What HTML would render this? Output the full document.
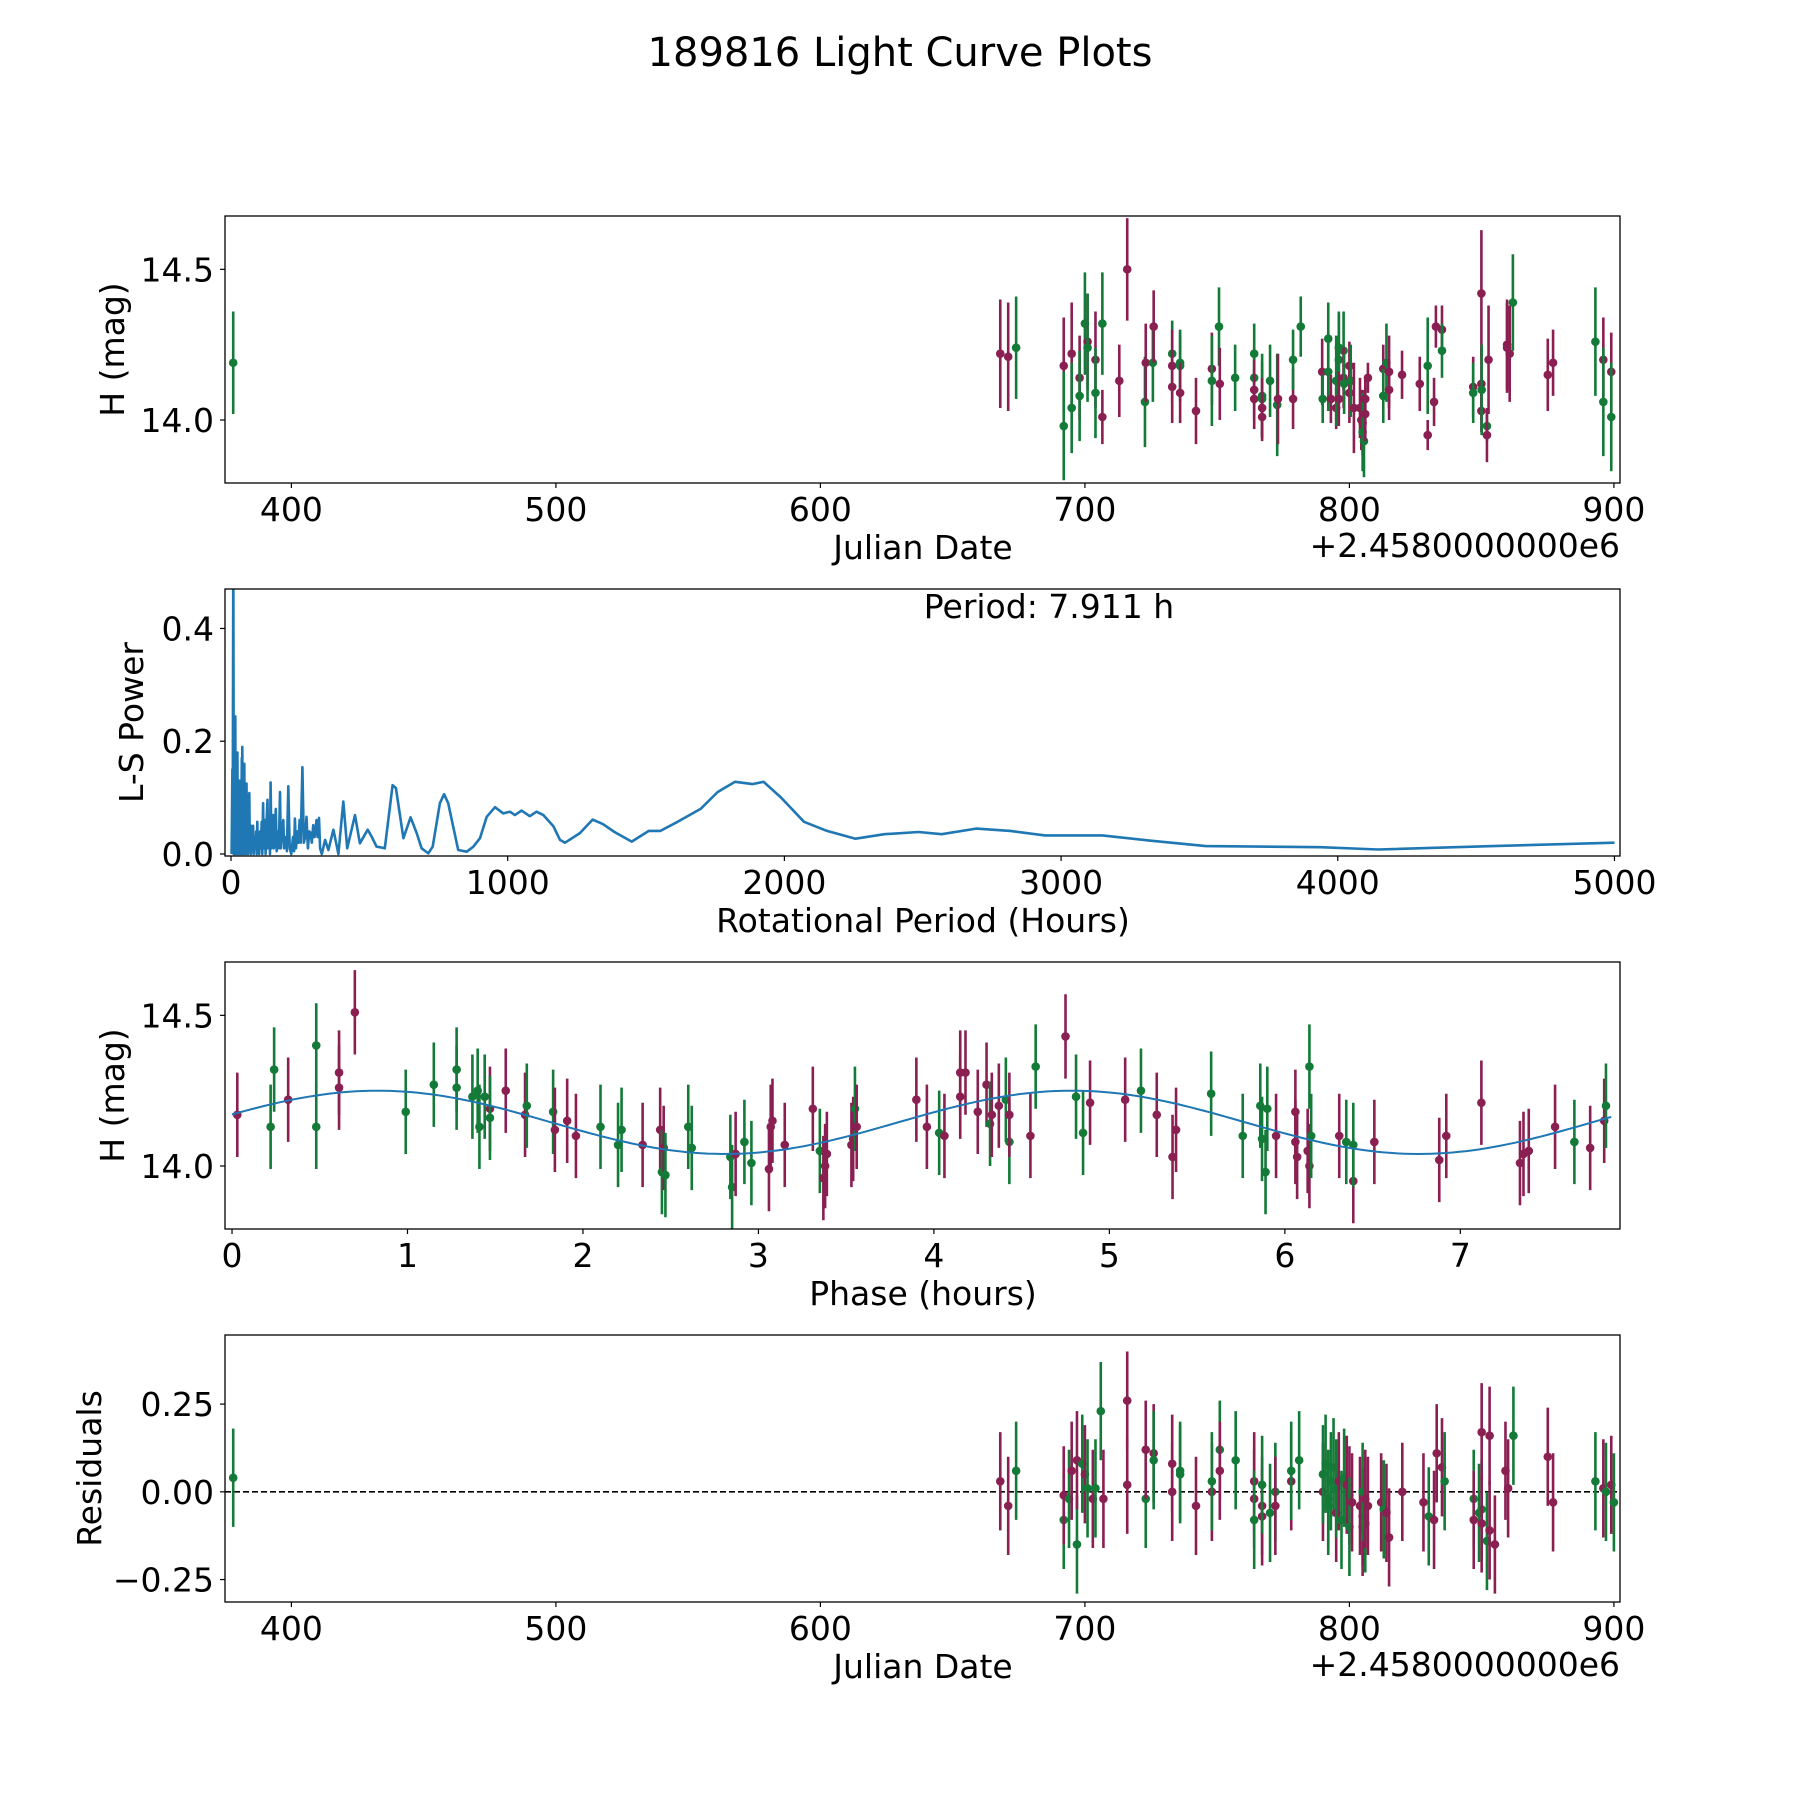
<!DOCTYPE html>
<html><head><meta charset="utf-8"><title>189816 Light Curve Plots</title>
<style>
html,body{margin:0;padding:0;background:#fff;}
svg{display:block;font-family:"DejaVu Sans","Liberation Sans",sans-serif;}
</style></head>
<body>
<svg id="fig" width="1800" height="1800" viewBox="0 0 1800 1800" xmlns="http://www.w3.org/2000/svg">
<rect width="1800" height="1800" fill="#fff"/>
<text x="900" y="66" font-size="40" text-anchor="middle">189816 Light Curve Plots</text>
</svg>
<script>
// ---------- Panel 1 : Light curve (JD offsets from 2458000) ----------
const lcJD  = [378,668,671,674,692,692,695,695,698,698,700,701,701,704,704,706.6,706.6,713,716,722.7,723,725.7,726,733,733,733,736,736,736,742,748,748,750.7,751,756.8,764,764,764,764,767,767,767,767,770,772.7,773,778.7,778.7,781.6,
 789.7,789.9,792,792,793,795,795,796,796,796,797.8,797.8,798,800,800,800.5,801.7,804,804.5,805,805,805.5,806,806,807,812.8,812.8,814,815,815,819.9,826.6,829.6,829.6,832,832.7,835,835,846.8,846.8,849.9,849.9,849.9,850,852,852,852.6,859.6,859.6,860.6,861.8,875,877,893,896,896,899,899];
const lcMag = [14.19,14.22,14.21,14.24,14.18,13.98,14.22,14.04,14.14,14.08,14.32,14.26,14.24,14.20,14.09,14.32,14.01,14.13,14.50,14.06,14.19,14.19,14.31,14.22,14.18,14.11,14.19,14.18,14.09,14.03,14.17,14.13,14.31,14.12,14.14,14.22,14.14,14.10,14.07,14.07,14.08,14.04,14.01,14.13,14.05,14.07,14.07,14.20,14.31,
 14.16,14.07,14.27,14.16,14.07,14.04,14.13,14.24,14.20,14.07,14.23,14.14,14.12,14.18,14.09,14.13,14.04,14.04,14.00,13.99,13.96,13.93,14.07,14.02,14.14,14.17,14.08,14.19,14.16,14.10,14.15,14.12,14.18,13.95,14.06,14.31,14.30,14.23,14.11,14.09,14.12,14.03,14.42,14.10,13.98,13.95,14.20,14.25,14.24,14.22,14.39,14.15,14.19,14.26,14.20,14.06,14.16,14.01];
const lcErr = [0.17,0.18,0.18,0.17,0.16,0.18,0.17,0.15,0.14,0.15,0.17,0.16,0.18,0.16,0.15,0.17,0.09,0.12,0.17,0.15,0.13,0.13,0.12,0.11,0.12,0.12,0.10,0.12,0.10,0.11,0.12,0.15,0.13,0.12,0.11,0.10,0.10,0.10,0.10,0.12,0.14,0.10,0.08,0.12,0.17,0.15,0.10,0.10,0.10,
 0.11,0.08,0.12,0.13,0.08,0.07,0.15,0.12,0.15,0.09,0.13,0.10,0.10,0.08,0.10,0.12,0.15,0.10,0.10,0.11,0.13,0.12,0.07,0.09,0.05,0.08,0.09,0.13,0.12,0.10,0.08,0.09,0.16,0.05,0.08,0.07,0.08,0.09,0.10,0.10,0.12,0.07,0.21,0.15,0.05,0.09,0.18,0.15,0.15,0.16,0.16,0.12,0.11,0.18,0.14,0.18,0.13,0.18];
const lcCol = ("gppgpgpgpggpgpggpppgpgpgppggpppggpgggppggppggppgg"+"pgggppgggpgpgppgppppggppppggppppgppppgpgpppggpppppgppgpgpg").split("");
// ---------- Panel 2 : Lomb-Scargle periodogram ----------
const lsPeriod = [2,5,6,8.4,10,12,13,15.6,17,19,20,23,25,27,29,31,33,35,37,39,40,41,43,45,46,48,50,52,54,56,58,60,62,64,66,68,70,72,74,76,80,82,85,88,91,93,95,97,100,102,105,108,111,113,116,118,120,123,125,128,132,134,138,141,143,146,150,153,155,158,162,165,170,173,177,180,184,189,192,198,202,207,212,218,224,228,231,235,240,244,248,252,258,263,268,273,278,283,288,292,297,302,309,313,318,322,328,340,352,370,388,406,420,448,466,494,508,526,538,556,584,596,623,649,671,689,713,729,755,770,785,821,852,876,900,924,954,984,1008,1026,1050,1080,1104,1129,1165,1189,1207,1261,1307,1344,1386,1448,1510,1552,1614,1697,1759,1822,1884,1925,1988,2071,2154,2257,2361,2485,2568,2693,2817,2942,3149,3315,3523,3938,4145,4560,5000];
const lsPower  = [0,0.15,0.02,0.55,0,0.1,0,0.244,0,0.14,0.01,0.18,0,0.1,0.02,0.13,0,0.09,0.01,0.17,0,0.19,0.02,0.1,0,0.16,0.01,0.08,0,0.125,0.01,0.06,0,0.1,0.108,0.01,0.05,0,0.05,0.01,0.05,0,0.03,0.01,0.04,0,0.057,0.01,0.03,0,0.04,0.01,0.057,0,0.09,0.01,0.04,0.06,0,0.05,0.096,0.01,0.06,0,0.127,0.01,0.05,0.069,0.01,0.03,0.08,0.005,0.04,0.01,0.11,0.01,0.04,0.06,0.01,0.03,0.005,0.12,0.01,0,0.03,0.005,0.063,0.01,0.04,0.02,0.06,0.02,0.154,0.02,0.03,0.066,0.01,0.04,0.037,0.02,0.051,0.03,0.06,0.03,0.064,0.01,0,0.025,0.007,0.043,0,0.093,0.01,0.069,0.019,0.043,0.031,0.013,0.012,0.01,0.122,0.117,0.028,0.065,0.037,0.01,0.001,0.013,0.09,0.106,0.09,0.007,0.004,0.013,0.028,0.066,0.083,0.072,0.075,0.069,0.077,0.067,0.075,0.069,0.049,0.025,0.02,0.037,0.061,0.053,0.039,0.022,0.041,0.041,0.057,0.08,0.11,0.128,0.124,0.128,0.1,0.057,0.041,0.027,0.035,0.039,0.035,0.045,0.041,0.033,0.033,0.024,0.014,0.012,0.008,0.014,0.02];
// ---------- Panel 3 : Phase-folded ----------
const phX = [0.03,0.22,0.24,0.32,0.48,0.48,0.61,0.61,0.70,0.99,1.15,1.28,1.28,1.37,1.40,1.41,1.44,1.47,1.47,1.56,1.67,1.68,1.83,1.84,1.91,1.96,2.10,2.20,2.22,2.34,2.44,2.45,2.46,2.47,2.60,2.62,2.84,2.85,2.87,2.92,2.96,3.06,3.07,3.08,3.15,3.31,3.35,3.37,3.38,3.39,3.53,3.54,3.55,3.56,3.90,3.96,4.03,4.06,4.15,4.15,4.18,4.25,4.30,4.32,4.33,4.37,4.41,4.43,4.43,4.55,4.58,4.75,4.81,4.85,4.89,5.09,5.18,5.27,5.36,5.38,5.58,5.76,5.86,5.87,5.89,5.90,5.95,6.06,6.06,6.07,6.13,6.14,6.14,6.15,6.31,6.35,6.39,6.39,6.51,6.88,6.92,7.12,7.34,7.36,7.39,7.54,7.65,7.74,7.82,7.83];
const phMag = [14.17,14.13,14.32,14.22,14.13,14.40,14.31,14.26,14.51,14.18,14.27,14.32,14.26,14.23,14.25,14.13,14.23,14.19,14.16,14.25,14.17,14.20,14.18,14.12,14.15,14.10,14.13,14.07,14.12,14.07,14.12,13.98,14.06,13.97,14.13,14.06,14.03,13.93,14.04,14.08,14.01,13.99,14.13,14.15,14.07,14.19,14.05,13.96,14.00,14.04,14.07,14.09,14.19,14.13,14.22,14.13,14.11,14.10,14.23,14.31,14.31,14.18,14.27,14.14,14.17,14.20,14.22,14.08,14.17,14.10,14.33,14.43,14.23,14.11,14.21,14.22,14.25,14.17,14.03,14.12,14.24,14.10,14.20,14.09,13.98,14.19,14.10,14.08,14.18,14.03,14.05,14.00,14.33,14.10,14.10,14.08,13.95,14.07,14.08,14.02,14.10,14.21,14.01,14.04,14.05,14.13,14.08,14.06,14.15,14.20];
const phCol = ("pggpggpppg"+"gggggggpgp"+"pggpppgggp"+"pgpgggggpg"+"gpppppgppp"+"ppgpppgppp"+"pppgppggpp"+"gpggppgppp"+"ggggggpppp"+"ppggpgpgpp"+"ppppppgppg").split("");
const modelParams = [14.145, 0.105, 0.83, 3.9555]; // mean, amplitude, peak phase, period of fit (h)
// ---------- Panel 4 : Residuals ----------
const rsJD = [378,668,671,674,692,692,694,695,697,697,699,700,701,703,704,706,707,716,716,723,723,726,726,733,733,736,736,742,748,748,751,751,757,764,764,764,767,767,767,770,772,772,778,778,781,790,790,791,792,792,793,794,795,795,796,797,798,799,800,800,801,804,805,805,805,806,806,807,812,813,814,815,820,828,830,832,833,835,836,847,847,849,850,850,850,852,853,853,855,859,860,862,875,877,893,896,897,899,900];
const rsVal = [0.04,0.03,-0.04,0.06,-0.08,-0.01,-0.02,0.06,-0.15,0.09,0.08,0.05,0.01,-0.02,0.01,0.23,-0.02,0.02,0.26,-0.02,0.12,0.11,0.09,0.08,0.00,0.06,0.05,-0.04,0.00,0.03,0.12,0.06,0.09,-0.02,0.03,-0.08,-0.04,-0.07,0.02,-0.06,0.00,-0.04,0.03,0.06,0.09,0.00,0.05,0.08,-0.02,-0.04,0.03,0.07,-0.06,0.01,0.03,-0.08,0.04,0.02,-0.01,-0.10,-0.03,-0.04,-0.07,-0.10,0.00,-0.09,-0.02,-0.04,-0.03,-0.05,-0.06,-0.13,0.00,-0.03,-0.07,-0.08,0.11,0.07,0.03,-0.02,-0.08,-0.06,-0.05,-0.09,0.17,-0.14,0.16,-0.11,-0.15,0.06,0.01,0.16,0.10,-0.03,0.03,0.01,0.00,0.02,-0.03];
const rsCol = ("gppggpgpgp"+"gpgpggpppg"+"ppgppggppg"+"gpgppgppgg"+"gppggpgggg"+"ggpgpggppg"+"ppppggpppg"+"ppppgpppgg"+"pggppgpppp"+"pgppgpgpg").split("");
const rsErr = 0.14;

const NS = "http://www.w3.org/2000/svg";
const svg = document.getElementById("fig");
const COLORS = {p:"#8a1f52", g:"#137a37"};
function mk(tag, attrs, parent){const e=document.createElementNS(NS,tag);for(const k in attrs)e.setAttribute(k,attrs[k]);(parent||svg).appendChild(e);return e;}
function scale(d0,d1,r0,r1){return v=>r0+(v-d0)/(d1-d0)*(r1-r0);}

const L=225,R=1620,H=267;
const panels=[216,589,962,1335];
function axes(idx, xlim, ylim, xticks, xtickLabels, yticks, ytickLabels, xlabel, ylabel, ylabelX, name){
  const top=panels[idx], bot=top+H;
  const g=mk("g",{});
  
  
  const sx=scale(xlim[0],xlim[1],L,R), sy=scale(ylim[0],ylim[1],bot,top);
  const cp=mk("clipPath",{id:"clip"+idx},g); mk("rect",{x:L,y:top,width:R-L,height:H},cp);
  const plot=mk("g",{"clip-path":"url(#clip"+idx+")"},g);
  
  
  xticks.forEach((t,i)=>{const x=sx(t);mk("line",{x1:x,x2:x,y1:bot,y2:bot+5,stroke:"#000","stroke-width":1.2},g);
    const tx=mk("text",{x:x,y:bot+38,"font-size":33,"text-anchor":"middle"},g);tx.textContent=xtickLabels[i];
    
    });
  yticks.forEach((t,i)=>{const y=sy(t);mk("line",{x1:L-5,x2:L,y1:y,y2:y,stroke:"#000","stroke-width":1.2},g);
    const tx=mk("text",{x:L-11,y:y+12,"font-size":33,"text-anchor":"end"},g);tx.textContent=ytickLabels[i];
    
    });
  const xl=mk("text",{x:923,y:bot+76,"font-size":33,"text-anchor":"middle"},g);xl.textContent=xlabel;
  
  
  const cy=(top+bot)/2;
  const yl=mk("text",{x:ylabelX,y:cy,"font-size":33,"text-anchor":"middle",transform:"rotate(-90 "+ylabelX+" "+cy+")"},g);yl.textContent=ylabel;
  
  
  return {g,plot,sx,sy,top,bot};
}
function frame(a){const r=mk("rect",{x:L,y:a.top,width:R-L,height:H,fill:"none",stroke:"#000","stroke-width":1.3},a.g);
  
  }
function errpts(a, xs, ys, errs, cols, nm){
  xs.forEach((xv,i)=>{const x=a.sx(xv),y=a.sy(ys[i]);const e=Array.isArray(errs)?errs[i]:errs;const c=COLORS[cols[i]]||COLORS.p;
    const ln=mk("line",{x1:x,x2:x,y1:a.sy(ys[i]-e),y2:a.sy(ys[i]+e),stroke:c,"stroke-width":2.6},a.plot);
    
    
    const ci=mk("circle",{cx:x,cy:y,r:4.3,fill:c},a.plot);
    
    });
}
const jdTicks=[400,500,600,700,800,900];
const jdLabels=jdTicks.map(String);
// Panel 1
const a1=axes(0,[374.9,902.3],[13.791,14.677],jdTicks,jdLabels,[14.0,14.5],["14.0","14.5"],"Julian Date","H (mag)",124,"light-curve-panel");
errpts(a1,lcJD,lcMag,lcErr,lcCol,"light-curve");
frame(a1);
let off=mk("text",{x:1620,y:a1.bot+74,"font-size":33,"text-anchor":"end"},a1.g);off.textContent="+2.4580000000e6";


// Panel 2
const a2=axes(1,[-21.7,5020],[-0.0036,0.47],[0,1000,2000,3000,4000,5000],["0","1000","2000","3000","4000","5000"],[0,0.2,0.4],["0.0","0.2","0.4"],"Rotational Period (Hours)","L-S Power",143,"periodogram-panel");
const pd=lsPeriod.map((p,i)=>(i?"L":"M")+a2.sx(p).toFixed(1)+" "+a2.sy(lsPower[i]).toFixed(1)).join(" ");
const pl=mk("path",{d:pd,fill:"none",stroke:"#1f77b4","stroke-width":2.6,"stroke-linejoin":"round"},a2.plot);


frame(a2);
let pt=mk("text",{x:1049,y:618,"font-size":33,"text-anchor":"middle"},a2.g);pt.textContent="Period: 7.911 h";


// Panel 3
const a3=axes(2,[-0.04,7.91],[13.791,14.677],[0,1,2,3,4,5,6,7],["0","1","2","3","4","5","6","7"],[14.0,14.5],["14.0","14.5"],"Phase (hours)","H (mag)",124,"phase-panel");
errpts(a3,phX,phMag,0.14,phCol,"phase");
const mp=[];for(let k=0;k<=200;k++){const p=7.86*k/200;const v=modelParams[0]+modelParams[1]*Math.cos(2*Math.PI*(p-modelParams[2])/modelParams[3]);mp.push((k?"L":"M")+a3.sx(p).toFixed(1)+" "+a3.sy(v).toFixed(1));}
const ml=mk("path",{d:mp.join(" "),fill:"none",stroke:"#1f77b4","stroke-width":2},a3.plot);


frame(a3);
// Panel 4
const a4=axes(3,[374.9,902.3],[-0.314,0.447],jdTicks,jdLabels,[-0.25,0,0.25],["\u22120.25","0.00","0.25"],"Julian Date","Residuals",101,"residuals-panel");
const zl=mk("line",{x1:L,x2:R,y1:a4.sy(0),y2:a4.sy(0),stroke:"#000","stroke-width":1.6,"stroke-dasharray":"6 3"},a4.plot);


errpts(a4,rsJD,rsVal,rsErr,rsCol,"residual");
frame(a4);
off=mk("text",{x:1620,y:a4.bot+74,"font-size":33,"text-anchor":"end"},a4.g);off.textContent="+2.4580000000e6";


</script>
</body></html>
